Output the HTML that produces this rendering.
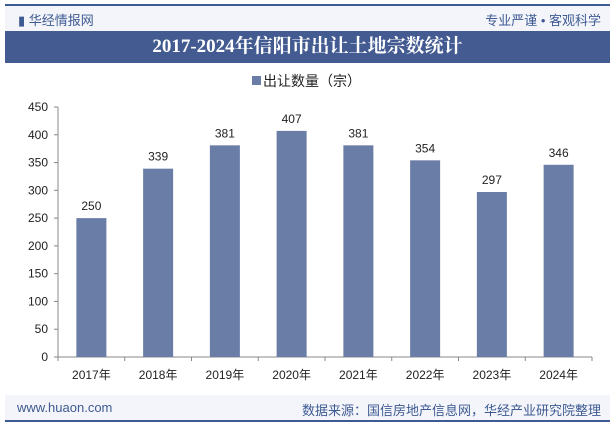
<!DOCTYPE html>
<html><head><meta charset="utf-8"><style>
body{margin:0;width:615px;height:427px;background:#fff;font-family:"Liberation Sans","Noto Sans CJK SC",sans-serif;overflow:hidden;position:relative}
</style></head><body>
<div style="position:absolute;left:5px;top:4px;width:605px;height:27px;background:#f3f5fa;border-top:2px solid #3e5a92"></div>
<div style="position:absolute;left:18px;top:10px;font-size:13px;color:#3e5a92">▮ 华经情报网</div>
<div style="position:absolute;right:14px;top:10px;font-size:13px;color:#3e5a92">专业严谨 • 客观科学</div>
<div style="position:absolute;left:5px;top:31px;width:605px;height:32px;background:#435b91;color:#fff;font-family:'Liberation Serif','Noto Serif CJK SC',serif;font-weight:bold;font-size:19px;text-align:center;line-height:32px">2017-2024年信阳市出让土地宗数统计</div>
<svg id="c" width="615" height="427" style="position:absolute;left:0;top:0"></svg>
<div style="position:absolute;left:5px;top:395px;width:605px;height:25px;background:#f3f5fa;border-bottom:2px solid #3e5a92"></div>
<div style="position:absolute;left:17px;top:400px;font-size:13px;color:#3e5a92">www.huaon.com</div>
<div style="position:absolute;right:14px;top:400px;font-size:13px;color:#3e5a92">数据来源：国信房地产信息网，华经产业研究院整理</div>
<script>
const categories=["2017年","2018年","2019年","2020年","2021年","2022年","2023年","2024年"];
const values=[250,339,381,407,381,354,297,346];
const ticks=[0,50,100,150,200,250,300,350,400,450];
const NS="http://www.w3.org/2000/svg",svg=document.getElementById('c');
const x0=58,x1=592,y0=357,y1=107,max=450;
const y=v=>y0-(v/max)*(y0-y1);
const bw=(x1-x0)/categories.length;
const xc=i=>x0+bw*(i+0.5);
function mk(t,a,txt){const e=document.createElementNS(NS,t);for(const k in a)e.setAttribute(k,a[k]);if(txt!=null)e.textContent=txt;svg.appendChild(e);return e;}
let e=mk('rect',{x:252,y:76,width:9,height:9,fill:'#6a7da6'});


e=mk('text',{x:263,y:86,'font-size':14,fill:'#222'},'出让数量（宗）');


e=mk('line',{x1:x0,y1:y1,x2:x0,y2:y0,stroke:'#888'});


e=mk('line',{x1:x0,y1:y0,x2:x1,y2:y0,stroke:'#888'});


ticks.forEach(t=>{
 mk('line',{x1:x0-4,y1:y(t),x2:x0,y2:y(t),stroke:'#888'});
 e=mk('text',{x:x0-10,y:y(t)+4,'font-size':12,fill:'#222','text-anchor':'end'},t);
 
 
});
for(let i=0;i<=categories.length;i++)mk('line',{x1:x0+bw*i,y1:y0,x2:x0+bw*i,y2:y0+4,stroke:'#888'});
categories.forEach((c,i)=>{
 e=mk('rect',{x:xc(i)-15,y:y(values[i]),width:30,height:y0-y(values[i]),fill:'#6a7da6'});
 
 
 e=mk('text',{x:xc(i),y:y(values[i])-8,'font-size':12,fill:'#222','text-anchor':'middle'},values[i]);
 
 
 e=mk('text',{x:xc(i),y:y0+22,'font-size':12,fill:'#222','text-anchor':'middle'},c);
 
 
});
</script>
</body></html>
